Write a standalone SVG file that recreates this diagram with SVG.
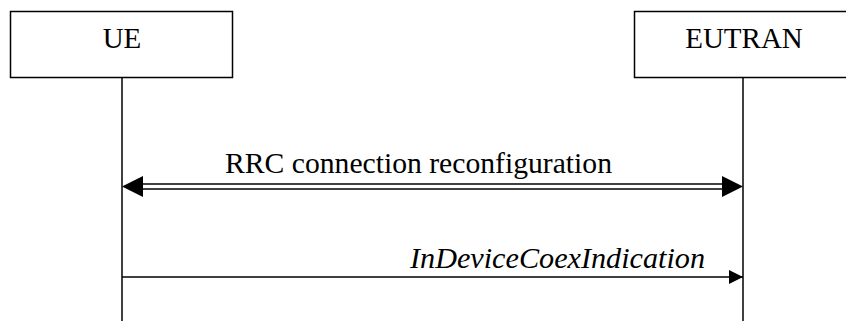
<svg xmlns="http://www.w3.org/2000/svg" width="846" height="321" viewBox="0 0 846 321">
<style>
.box{fill:#fff;stroke:#000;stroke-width:1.5}
.ll{stroke:#000;stroke-width:1.5;fill:none}
.msg{stroke:#000;stroke-width:1.5;fill:none}
.t{font-family:"Liberation Serif","Times New Roman",serif;font-size:29px;fill:#000}
.i{font-style:italic}
</style>
<defs>
<marker id="ah2" viewBox="0 0 14 14" refX="14" refY="7" markerWidth="14" markerHeight="14" markerUnits="userSpaceOnUse" orient="auto">
<path d="M0,0 L14,7 L0,14 Z" fill="#000"/>
</marker>
</defs>
<g id="ue">
<rect class="box" x="10.5" y="11.5" width="222" height="66"/>
<text class="t" x="122" y="48" text-anchor="middle">UE</text>
</g>
<g id="eutran">
<rect class="box" x="634.5" y="11.5" width="222" height="66"/>
<text class="t" x="744" y="48" text-anchor="middle">EUTRAN</text>
</g>
<g id="connectors">
<line class="ll" x1="122" y1="78" x2="122" y2="321"/>
<line class="ll" x1="743" y1="78" x2="743" y2="321"/>
<line class="msg" x1="140" y1="184" x2="726" y2="184"/>
<line class="msg" x1="140" y1="189" x2="726" y2="189"/>
<path d="M122,186.5 L143,176 L143,197 Z" fill="#000"/>
<path d="M743,186.5 L722,176 L722,197 Z" fill="#000"/>
<text class="t" x="225" y="173" textLength="387" lengthAdjust="spacingAndGlyphs">RRC connection reconfiguration</text>
<line class="msg" x1="122" y1="277" x2="743" y2="277" marker-end="url(#ah2)"/>
<text class="t i" x="410" y="268" textLength="295" lengthAdjust="spacingAndGlyphs">InDeviceCoexIndication</text>
</g>
</svg>
